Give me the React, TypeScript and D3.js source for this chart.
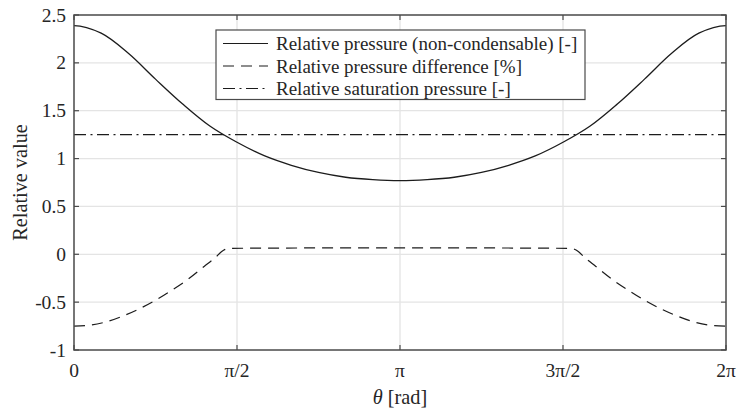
import React from "react";
import * as d3 from "d3";

// Angle positions are stored as multiples of π.
const solidTheta = [0, 1/12, 2/12, 3/12, 4/12, 5/12, 6/12, 7/12, 8/12, 9/12, 10/12, 11/12, 1,
  13/12, 14/12, 15/12, 16/12, 17/12, 18/12, 19/12, 20/12, 21/12, 22/12, 23/12, 2];
const relPressure = [2.39, 2.31, 2.1, 1.83, 1.57, 1.34, 1.17, 1.03, 0.93, 0.855, 0.805, 0.78, 0.77,
  0.78, 0.805, 0.855, 0.93, 1.03, 1.17, 1.34, 1.57, 1.83, 2.1, 2.31, 2.39];

const diffTheta = [0, 0.05, 0.1, 0.15, 0.2, 0.25, 0.3, 0.35, 0.4, 0.43, 0.46, 0.475, 1,
  1.525, 1.54, 1.57, 1.6, 1.65, 1.7, 1.75, 1.8, 1.85, 1.9, 1.95, 2];
const relDifference = [-0.75, -0.74, -0.705, -0.645, -0.57, -0.48, -0.375, -0.26, -0.125, -0.045, 0.045, 0.062, 0.068,
  0.062, 0.045, -0.045, -0.125, -0.26, -0.375, -0.48, -0.57, -0.645, -0.705, -0.74, -0.75];

const satTheta = [0, 2];
const relSaturation = [1.25, 1.25];

const xTickValues = [0, 0.5, 1, 1.5, 2];
const xTickLabels = ["0", "π/2", "π", "3π/2", "2π"];
const yTickValues = [-1, -0.5, 0, 0.5, 1, 1.5, 2, 2.5];
const yTickLabels = ["-1", "-0.5", "0", "0.5", "1", "1.5", "2", "2.5"];

const legendLabels = [
  "Relative pressure (non-condensable) [-]",
  "Relative pressure difference [%]",
  "Relative saturation pressure [-]",
];
const dashes = ["none", "11,7", "12,4.5,2,4.5"];

const W = 739;
const H = 410;
const M = { left: 74, right: 726, top: 15, bottom: 350 };
const FONT = "'Liberation Serif', 'Times New Roman', serif";
const TEXT = "#262626";
const AXIS = "#4a4a4a";
const GRID = "#e4e4e4";
const LINE = "#1c1c1c";

// Extend a periodic series by one sample on each side so the spline
// leaves the plot edges with the same slope it has on the other end.
function periodic(theta: number[], vals: number[]): [number, number][] {
  const n = theta.length;
  const pts: [number, number][] = theta.map((t, i) => [t, vals[i]]);
  return [
    [theta[0] - (theta[n - 1] - theta[n - 2]), vals[n - 2]],
    ...pts,
    [theta[n - 1] + (theta[1] - theta[0]), vals[1]],
  ];
}

export default function App() {
  const x = d3.scaleLinear().domain([0, 2]).range([M.left, M.right]);
  const y = d3.scaleLinear().domain([-1, 2.5]).range([M.bottom, M.top]);

  const smooth = d3.line<[number, number]>()
    .x((d) => x(d[0]))
    .y((d) => y(d[1]))
    .curve(d3.curveCatmullRom.alpha(0.5));
  const mono = d3.line<[number, number]>()
    .x((d) => x(d[0]))
    .y((d) => y(d[1]))
    .curve(d3.curveMonotoneX);
  const straight = d3.line<[number, number]>()
    .x((d) => x(d[0]))
    .y((d) => y(d[1]));

  const solidPath = smooth(periodic(solidTheta, relPressure));
  const diffPath = mono(diffTheta.map((t, i) => [t, relDifference[i]]));
  const satPath = straight(satTheta.map((t, i) => [t, relSaturation[i]]));

  const tickLen = 5;
  const legX = 216;
  const legY = 30;
  const legW = 369;
  const legRow = 22.5;

  return (
    <div style={{ position: "absolute", left: 0, top: 0 }}>
      <svg width={W} height={H} style={{ display: "block", background: "#fff" }} fontFamily={FONT}>
        <defs>
          <clipPath id="plot-area">
            <rect x={M.left} y={M.top} width={M.right - M.left} height={M.bottom - M.top} />
          </clipPath>
        </defs>

        {/* grid */}
        {xTickValues.slice(1, -1).map((v) => (
          <line key={"gx" + v} x1={x(v)} x2={x(v)} y1={M.top} y2={M.bottom} stroke={GRID} strokeWidth={1.3} />
        ))}
        {yTickValues.slice(1, -1).map((v) => (
          <line key={"gy" + v} x1={M.left} x2={M.right} y1={y(v)} y2={y(v)} stroke={GRID} strokeWidth={1.3} />
        ))}

        {/* series */}
        <g clipPath="url(#plot-area)">
          <path d={satPath ?? ""} fill="none" stroke={LINE} strokeWidth={1.2} strokeDasharray={dashes[2]} />
          <path d={diffPath ?? ""} fill="none" stroke={LINE} strokeWidth={1.2} strokeDasharray={dashes[1]} />
          <path d={solidPath ?? ""} fill="none" stroke={LINE} strokeWidth={1.3} />
        </g>

        {/* axes box and inward ticks */}
        <rect x={M.left} y={M.top} width={M.right - M.left} height={M.bottom - M.top} fill="none" stroke={AXIS} strokeWidth={1.5} />
        {xTickValues.map((v) => (
          <g key={"tx" + v}>
            <line x1={x(v)} x2={x(v)} y1={M.bottom} y2={M.bottom - tickLen} stroke={AXIS} strokeWidth={1.2} />
            <line x1={x(v)} x2={x(v)} y1={M.top} y2={M.top + tickLen} stroke={AXIS} strokeWidth={1.2} />
          </g>
        ))}
        {yTickValues.map((v) => (
          <g key={"ty" + v}>
            <line x1={M.left} x2={M.left + tickLen} y1={y(v)} y2={y(v)} stroke={AXIS} strokeWidth={1.2} />
            <line x1={M.right} x2={M.right - tickLen} y1={y(v)} y2={y(v)} stroke={AXIS} strokeWidth={1.2} />
          </g>
        ))}

        {/* tick labels */}
        {xTickValues.map((v, i) => (
          <text key={"lx" + v} x={x(v)} y={377} textAnchor="middle" fontSize={19.5} fill={TEXT}>
            {xTickLabels[i]}
          </text>
        ))}
        {yTickValues.map((v, i) => (
          <text key={"ly" + v} x={66} y={y(v) + 6.5} textAnchor="end" fontSize={19.5} fill={TEXT}>
            {yTickLabels[i]}
          </text>
        ))}

        {/* axis titles */}
        <text x={x(1)} y={404} textAnchor="middle" fontSize={20.3} fill={TEXT}>
          <tspan fontStyle="italic">θ</tspan> [rad]
        </text>
        <text transform={`translate(27,${(M.top + M.bottom) / 2}) rotate(-90)`} textAnchor="middle" fontSize={20.3} fill={TEXT}>
          Relative value
        </text>

        {/* legend */}
        <rect x={legX} y={legY} width={legW} height={legRow * 3 + 2} fill="#fff" stroke={AXIS} strokeWidth={1.2} />
        {legendLabels.map((label, i) => {
          const cy = legY + 13.5 + i * legRow;
          return (
            <g key={label}>
              <line x1={legX + 7} x2={legX + 52} y1={cy} y2={cy} stroke={LINE} strokeWidth={1.2}
                strokeDasharray={dashes[i] === "none" ? undefined : dashes[i]} />
              <text x={legX + 60} y={cy + 6.5} fontSize={19} fill={TEXT}>{label}</text>
            </g>
          );
        })}
      </svg>
    </div>
  );
}
